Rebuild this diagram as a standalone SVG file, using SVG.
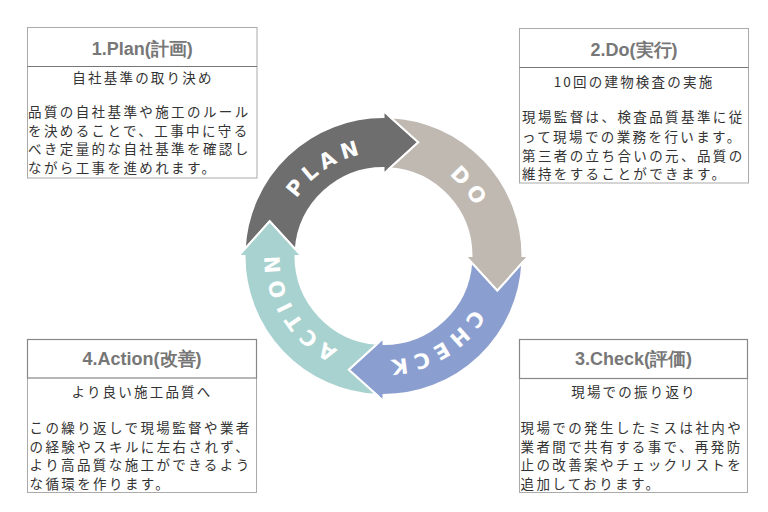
<svg xmlns="http://www.w3.org/2000/svg" xmlns:xlink="http://www.w3.org/1999/xlink" width="768" height="512" viewBox="0 0 768 512">
<style>
.box{fill:#fff;stroke:#aaa;stroke-width:1}
.hline{stroke:#777;stroke-width:1.2}
.hbox{fill:none;stroke:#888;stroke-width:1.2}
.title{font-family:"Liberation Sans",Arial,sans-serif;font-weight:bold;font-size:18px;fill:#777;text-anchor:middle}
.sub{font-family:"Noto Sans CJK JP",sans-serif;font-size:13.5px;fill:#333;letter-spacing:2.2px;text-anchor:middle}
.body{font-family:"Noto Sans CJK JP",sans-serif;font-size:13.5px;fill:#333;letter-spacing:2.4px}
.seg{stroke:#fff;stroke-width:2;stroke-linejoin:miter}
.ring{font-family:"DejaVu Sans",sans-serif;font-weight:bold;font-size:21px;fill:#fff;letter-spacing:5.5px}
</style>
<defs>
<path id="segShape" d="M244.67,249.11 A139,139 0 0 1 383.5,117 L383.5,111 L418.29,142.2 L383.5,174 L383.5,168 A88,88 0 0 0 295.73,249.69 L269.7,221.21 Z"/>
<path id="tPlan" d="M289.24,299.95 A104,104 0 0 1 457.04,182.46"/>
<path id="tDo" d="M331.5,165.93 A104,104 0 0 1 463.17,322.85"/>
<path id="tCheck" d="M479.93,217.04 A104,104 0 0 1 306.21,325.59"/>
<path id="tAction" d="M422.46,352.43 A104,104 0 0 1 313.91,178.71"/>
</defs>

<g id="connectors">
<use xlink:href="#segShape" class="seg" fill="#6e6e6e"/>
<use xlink:href="#segShape" class="seg" fill="#c0b9b1" transform="rotate(90 383.5 256)"/>
<use xlink:href="#segShape" class="seg" fill="#8a9ed0" transform="rotate(180 383.5 256)"/>
<use xlink:href="#segShape" class="seg" fill="#a8d2cf" transform="rotate(270 383.5 256)"/>
<text class="ring"><textPath xlink:href="#tPlan" startOffset="51%" text-anchor="middle">PLAN</textPath></text>
<text class="ring"><textPath xlink:href="#tDo" startOffset="51%" text-anchor="middle">DO</textPath></text>
<text class="ring"><textPath xlink:href="#tCheck" startOffset="51%" text-anchor="middle">CHECK</textPath></text>
<text class="ring"><textPath xlink:href="#tAction" startOffset="51%" text-anchor="middle">ACTION</textPath></text>
</g>

<g id="plan">
<rect class="box" x="27.5" y="27.5" width="229.5" height="150.5"/>
<line class="hline" x1="27.5" y1="66.5" x2="257" y2="66.5"/>
<text class="title" x="142.25" y="55">1.Plan(計画)</text>
<text class="sub" x="143" y="83">自社基準の取り決め</text>
<text class="body" x="28" y="117">品質の自社基準や施工のルール</text>
<text class="body" x="28" y="135.5">を決めることで、工事中に守る</text>
<text class="body" x="28" y="154">べき定量的な自社基準を確認し</text>
<text class="body" x="28" y="172.5">ながら工事を進めれます。</text>
</g>

<g id="do">
<rect class="box" x="519.5" y="28.5" width="229" height="154.5"/>
<line class="hline" x1="519.5" y1="67.5" x2="748.5" y2="67.5"/>
<text class="title" x="634" y="56">2.Do(実行)</text>
<text class="sub" x="634" y="86.5">10回の建物検査の実施</text>
<text class="body" x="522" y="122">現場監督は、検査品質基準に従</text>
<text class="body" x="522" y="141.5">って現場での業務を行います。</text>
<text class="body" x="522" y="160.5">第三者の立ち合いの元、品質の</text>
<text class="body" x="522" y="179">維持をすることができます。</text>
</g>

<g id="check">
<rect class="box" x="519.5" y="339.5" width="228" height="153"/>
<rect class="hbox" x="519.5" y="339.5" width="228" height="39"/>
<text class="title" x="633.5" y="365">3.Check(評価)</text>
<text class="sub" x="634" y="396.5">現場での振り返り</text>
<text class="body" x="520.5" y="433">現場での発生したミスは社内や</text>
<text class="body" x="520.5" y="451.5">業者間で共有する事で、再発防</text>
<text class="body" x="520.5" y="470">止の改善案やチェックリストを</text>
<text class="body" x="520.5" y="488.5">追加しております。</text>
</g>

<g id="action">
<rect class="box" x="27.5" y="339.5" width="229" height="153"/>
<rect class="hbox" x="27.5" y="339.5" width="229" height="38.5"/>
<text class="title" x="142" y="365">4.Action(改善)</text>
<text class="sub" x="142" y="396.5">より良い施工品質へ</text>
<text class="body" x="29.5" y="433">この繰り返しで現場監督や業者</text>
<text class="body" x="29.5" y="451.5">の経験やスキルに左右されず、</text>
<text class="body" x="29.5" y="470">より高品質な施工ができるよう</text>
<text class="body" x="29.5" y="488.5">な循環を作ります。</text>
</g>
</svg>
